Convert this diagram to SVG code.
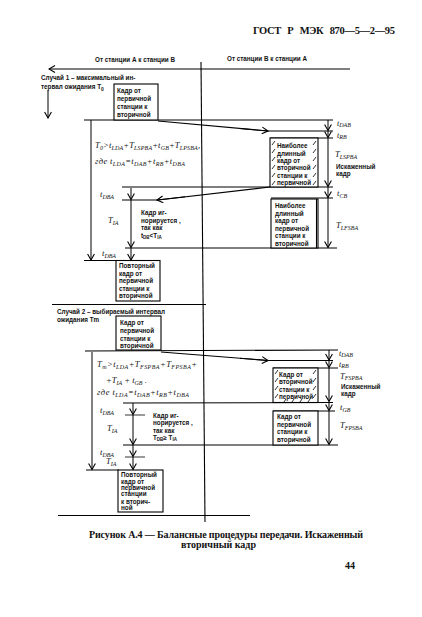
<svg xmlns="http://www.w3.org/2000/svg" width="422" height="617" viewBox="0 0 422 617">
<style>
.bg{fill:#fff}
.ln{stroke:#000;stroke-width:1.1;fill:none}
.lt{stroke:#000;stroke-width:0.8;fill:none}
.bx{stroke:#000;stroke-width:1.1;fill:#fff}
.ar{stroke:#000;stroke-width:1;fill:none;marker-end:url(#ah)}
.s{font-family:"Liberation Sans",Arial,sans-serif;font-size:6.3px;font-weight:bold;fill:#111}
.f{font-family:"Liberation Serif","Times New Roman",serif;font-style:italic;font-size:8.5px;fill:#111}
.fr{font-family:"Liberation Serif","Times New Roman",serif;font-style:italic;font-size:8px;fill:#111}
.fs{font-size:6px}
.h{font-family:"Liberation Serif","Times New Roman",serif;font-weight:bold;fill:#111}
.hatch{stroke:#000;stroke-width:0.8}
</style>
<defs>
<marker id="ah" markerWidth="8" markerHeight="8" refX="7" refY="4" orient="auto" markerUnits="userSpaceOnUse">
<path d="M1,0.6 L7,4 L1,7.4" fill="none" stroke="#000" stroke-width="1.1"/>
</marker>
</defs>
<rect class="bg" x="0" y="0" width="422" height="617"/>

<text class="h" x="253" y="34" font-size="10.5" textLength="142" lengthAdjust="spacing" word-spacing="4">ГОСТ Р МЭК 870—5—2—95</text>

<text class="s" x="95" y="62">От станции А к станции В</text>
<text class="s" x="227" y="61">От станции В к станции А</text>

<g id="connectors">
<line class="ln" x1="201" y1="62" x2="205" y2="522"/>
<line class="ln" x1="350" y1="69" x2="49" y2="69" marker-end="url(#ah)"/>
<line class="ar" x1="48" y1="90" x2="48" y2="118"/>

<!-- case 1 -->
<line class="ln" x1="84" y1="120" x2="333" y2="120"/>
<polyline class="ln" points="158,121 268,131 333,131"/>
<line class="ar" x1="240" y1="128.5" x2="268" y2="131"/>
<line class="ln" x1="270" y1="138" x2="333" y2="138"/>
<line class="ln" x1="122" y1="187" x2="333" y2="187"/>
<line class="ln" x1="271" y1="198" x2="333" y2="198"/>
<line class="ln" x1="125" y1="248" x2="337" y2="248"/>
<polyline class="ln" points="270,187 158,200 122,200"/>
<line class="ar" x1="185" y1="196.8" x2="157" y2="200"/>
<line class="ar" x1="91" y1="120" x2="91" y2="260"/>
<line class="ln" x1="84" y1="260.5" x2="117" y2="260.5"/>
<line class="ar" x1="131" y1="188" x2="131" y2="199.5"/>
<line class="ar" x1="131" y1="200" x2="131" y2="247.5"/>
<line class="ar" x1="131" y1="248" x2="131" y2="260"/>
<line class="ar" x1="328" y1="120" x2="328" y2="130.5"/>
<line class="ar" x1="328" y1="131" x2="328" y2="137.5"/>
<line class="ar" x1="328" y1="138" x2="328" y2="186.5"/>
<line class="ar" x1="328" y1="187" x2="328" y2="197.5"/>
<line class="ar" x1="328" y1="198" x2="328" y2="247.5"/>

<line class="ln" x1="52" y1="304.5" x2="206" y2="304.5"/>

<!-- case 2 -->
<line class="ln" x1="85" y1="351" x2="338" y2="350"/>
<polyline class="ln" points="161,352 268,360.5 333,360.5"/>
<line class="ar" x1="240" y1="358.3" x2="268" y2="360.5"/>
<line class="ln" x1="273" y1="368" x2="338" y2="368"/>
<line class="ln" x1="123" y1="403" x2="333" y2="402.5"/>
<line class="ln" x1="273" y1="411" x2="335" y2="411"/>
<line class="ln" x1="123" y1="445" x2="338" y2="445"/>
<line class="lt" x1="125" y1="415" x2="145" y2="415"/>
<line class="lt" x1="125" y1="457" x2="145" y2="457"/>
<line class="ar" x1="92" y1="352" x2="92" y2="469.5"/>
<line class="ln" x1="86" y1="470" x2="119" y2="470"/>
<line class="ar" x1="133" y1="403" x2="133" y2="414.5"/>
<line class="ar" x1="133" y1="415" x2="133" y2="444.5"/>
<line class="ar" x1="133" y1="445" x2="133" y2="456.5"/>
<line class="ar" x1="133" y1="457" x2="133" y2="469.5"/>
<line class="ar" x1="329" y1="350" x2="329" y2="360"/>
<line class="ar" x1="329" y1="360.5" x2="329" y2="367.5"/>
<line class="ar" x1="329" y1="368" x2="329" y2="401.5"/>
<line class="ar" x1="329" y1="402.5" x2="329" y2="410.5"/>
<line class="ar" x1="329" y1="411" x2="329" y2="444.5"/>

<line class="ln" x1="58" y1="515.5" x2="250" y2="515.5"/>
</g>

<text class="s" x="41" y="80" font-size="6.8">Случай 1 – максимальный ин-</text>
<text class="s" x="41" y="89" font-size="6.8">тервал ожидания T<tspan dy="1.5" font-size="5">0</tspan></text>

<g id="n1">
<rect class="bx" x="114" y="84" width="44" height="36"/>
<text class="s" x="117" y="93">Кадр от</text>
<text class="s" x="117" y="101">первичной</text>
<text class="s" x="117" y="109">станции к</text>
<text class="s" x="117" y="117">вторичной</text>
</g>

<g id="f1">
<text class="f" x="95" y="148" textLength="105" lengthAdjust="spacing">T<tspan class="fs" dy="1.5">0</tspan><tspan dy="-1.5">&gt;t</tspan><tspan class="fs" dy="1.5">LDA</tspan><tspan dy="-1.5">+T</tspan><tspan class="fs" dy="1.5">LSPBA</tspan><tspan dy="-1.5">+t</tspan><tspan class="fs" dy="1.5">GB</tspan><tspan dy="-1.5">+T</tspan><tspan class="fs" dy="1.5">LPSBA</tspan><tspan dy="-1.5">,</tspan></text>
<text class="f" x="95" y="164" textLength="90" lengthAdjust="spacing">где t<tspan class="fs" dy="1.5">LDA</tspan><tspan dy="-1.5">=t</tspan><tspan class="fs" dy="1.5">DAB</tspan><tspan dy="-1.5">+t</tspan><tspan class="fs" dy="1.5">RB</tspan><tspan dy="-1.5">+t</tspan><tspan class="fs" dy="1.5">DBA</tspan></text>
</g>

<g id="n2">
<rect class="bx" x="270" y="138" width="48" height="49"/>
<g class="hatch">
<line x1="272" y1="145" x2="275" y2="141"/><line x1="272" y1="153" x2="275" y2="149"/><line x1="272" y1="161" x2="275" y2="157"/><line x1="272" y1="169" x2="275" y2="165"/><line x1="272" y1="177" x2="275" y2="173"/><line x1="272" y1="185" x2="275" y2="181"/>
<line x1="313" y1="145" x2="316" y2="141"/><line x1="313" y1="153" x2="316" y2="149"/><line x1="313" y1="161" x2="316" y2="157"/><line x1="313" y1="169" x2="316" y2="165"/><line x1="313" y1="177" x2="316" y2="173"/><line x1="313" y1="185" x2="316" y2="181"/>
</g>
<text class="s" x="277" y="148">Наиболее</text>
<text class="s" x="277" y="155.5">длинный</text>
<text class="s" x="277" y="163">кадр от</text>
<text class="s" x="277" y="170">вторичной</text>
<text class="s" x="277" y="177.5">станции к</text>
<text class="s" x="277" y="185">первичной</text>
</g>

<g id="n3">
<rect class="bx" x="271" y="199" width="47" height="49"/>
<line class="ln" x1="316.5" y1="199" x2="316.5" y2="248"/>
<text class="s" x="275" y="208">Наиболее</text>
<text class="s" x="275" y="215.5">длинный</text>
<text class="s" x="275" y="223">кадр от</text>
<text class="s" x="275" y="230.5">первичной</text>
<text class="s" x="275" y="238">станции к</text>
<text class="s" x="275" y="245.5">вторичной</text>
</g>

<g id="labels1">
<text class="fr" x="337" y="125.5">t<tspan class="fs" dy="1.3">DAB</tspan></text>
<text class="fr" x="337" y="137.5">t<tspan class="fs" dy="1.3">RB</tspan></text>
<text class="f" x="335" y="157">T<tspan class="fs" dy="1.5">LSPBA</tspan></text>
<text class="s" x="336" y="169">Искаженный</text>
<text class="s" x="336" y="176">кадр</text>
<text class="f" x="337" y="196">t<tspan class="fs" dy="1.5">CB</tspan></text>
<text class="f" x="336" y="228">T<tspan class="fs" dy="1.5">LFSBA</tspan></text>
<text class="f" x="100" y="197">t<tspan class="fs" dy="1.5">DBA</tspan></text>
<text class="f" x="108" y="223">T<tspan class="fs" dy="1.5">IA</tspan></text>
<text class="f" x="102" y="256">t<tspan class="fs" dy="1.5">DBA</tspan></text>
<text class="s" x="141" y="215">Кадр иг-</text>
<text class="s" x="141" y="222.5">норируется ,</text>
<text class="s" x="141" y="230">так как</text>
<text class="s" x="141" y="237.5">t<tspan dy="1" font-size="4.5">DB</tspan><tspan dy="-1">&lt;T</tspan><tspan dy="1" font-size="4.5">IA</tspan></text>
</g>

<g id="n4">
<rect class="bx" x="116" y="260.5" width="44" height="40.5"/>
<text class="s" x="119" y="268">Повторный</text>
<text class="s" x="119" y="275.5">кадр от</text>
<text class="s" x="119" y="283">первичной</text>
<text class="s" x="119" y="290.5">станции к</text>
<text class="s" x="119" y="298">вторичной</text>
</g>

<text class="s" x="57" y="314" font-size="6.6">Случай 2 – выбираемый интервал</text>
<text class="s" x="57" y="322" font-size="6.6">ожидания Tm</text>

<g id="n5">
<rect class="bx" x="116" y="316" width="45" height="34"/>
<text class="s" x="120" y="325">Кадр от</text>
<text class="s" x="120" y="333">первичной</text>
<text class="s" x="120" y="340.5">станции к</text>
<text class="s" x="120" y="348">вторичной</text>
</g>

<g id="f2">
<text class="f" x="97" y="367" textLength="100" lengthAdjust="spacing">T<tspan class="fs" dy="1.5">m</tspan><tspan dy="-1.5">&gt;t</tspan><tspan class="fs" dy="1.5">LDA</tspan><tspan dy="-1.5">+T</tspan><tspan class="fs" dy="1.5">FSPBA</tspan><tspan dy="-1.5">+T</tspan><tspan class="fs" dy="1.5">FPSBA</tspan><tspan dy="-1.5">+</tspan></text>
<text class="f" x="106" y="383">+T<tspan class="fs" dy="1.5">IA</tspan><tspan dy="-1.5"> + t</tspan><tspan class="fs" dy="1.5">GB</tspan><tspan dy="-1.5"> .</tspan></text>
<text class="f" x="97" y="395" textLength="92" lengthAdjust="spacing">где t<tspan class="fs" dy="1.5">LDA</tspan><tspan dy="-1.5">=t</tspan><tspan class="fs" dy="1.5">DAB</tspan><tspan dy="-1.5">+t</tspan><tspan class="fs" dy="1.5">RB</tspan><tspan dy="-1.5">+t</tspan><tspan class="fs" dy="1.5">DBA</tspan></text>
</g>

<g id="n6">
<rect class="bx" x="273" y="368" width="45" height="34.5"/>
<g class="hatch">
<line x1="275" y1="374" x2="278" y2="370"/><line x1="275" y1="382" x2="278" y2="378"/><line x1="275" y1="390" x2="278" y2="386"/><line x1="275" y1="398" x2="278" y2="394"/>
<line x1="313" y1="374" x2="316" y2="370"/><line x1="313" y1="382" x2="316" y2="378"/><line x1="313" y1="390" x2="316" y2="386"/><line x1="313" y1="398" x2="316" y2="394"/>
<line x1="284" y1="402" x2="286" y2="399"/><line x1="292" y1="402" x2="294" y2="399"/><line x1="300" y1="402" x2="302" y2="399"/><line x1="308" y1="402" x2="310" y2="399"/>
</g>
<text class="s" x="279" y="377">Кадр от</text>
<text class="s" x="279" y="384">вторичной</text>
<text class="s" x="279" y="391.5">станции к</text>
<text class="s" x="279" y="398.5">первичной</text>
</g>

<g id="n7">
<rect class="bx" x="273" y="411" width="45" height="34"/>
<text class="s" x="277" y="419">Кадр от</text>
<text class="s" x="277" y="426.5">первичной</text>
<text class="s" x="277" y="434">станции к</text>
<text class="s" x="277" y="441.5">вторичной</text>
</g>

<g id="labels2">
<text class="fr" x="339" y="355.5">t<tspan class="fs" dy="1.3">DAB</tspan></text>
<text class="fr" x="339" y="367">t<tspan class="fs" dy="1.3">RB</tspan></text>
<text class="f" x="340" y="378.5">T<tspan class="fs" dy="1.5">FSPBA</tspan></text>
<text class="s" x="341" y="389">Искаженный</text>
<text class="s" x="341" y="395.5">кадр</text>
<text class="f" x="340" y="410">t<tspan class="fs" dy="1.5">GB</tspan></text>
<text class="f" x="340" y="428">T<tspan class="fs" dy="1.5">FPSBA</tspan></text>
<text class="f" x="100" y="413">t<tspan class="fs" dy="1.5">DBA</tspan></text>
<text class="f" x="107" y="431">T<tspan class="fs" dy="1.5">IA</tspan></text>
<text class="f" x="100" y="455">t<tspan class="fs" dy="1.5">DBA</tspan></text>
<text class="f" x="106" y="464">T<tspan class="fs" dy="1.5">IA</tspan></text>
<text class="s" x="153" y="417.5">Кадр иг-</text>
<text class="s" x="153" y="425">норируется ,</text>
<text class="s" x="153" y="432.5">так как</text>
<text class="s" x="153" y="440">T<tspan dy="1" font-size="4.5">DB</tspan><tspan dy="-1">≥ T</tspan><tspan dy="1" font-size="4.5">IA</tspan></text>
</g>

<g id="n8">
<rect class="bx" x="118" y="470" width="45" height="42"/>
<text class="s" x="121" y="477">Повторный</text>
<text class="s" x="121" y="483.5">кадр от</text>
<text class="s" x="121" y="489.5">первичной</text>
<text class="s" x="121" y="496">станции</text>
<text class="s" x="121" y="503.5">к вторич-</text>
<text class="s" x="121" y="510">ной</text>
</g>

<text class="h" x="89" y="538" font-size="10" textLength="274" lengthAdjust="spacing">Рисунок А.4 — Балансные процедуры передачи. Искаженный</text>
<text class="h" x="181" y="548" font-size="10">вторичный кадр</text>
<text class="h" x="345" y="569" font-size="10">44</text>
</svg>
